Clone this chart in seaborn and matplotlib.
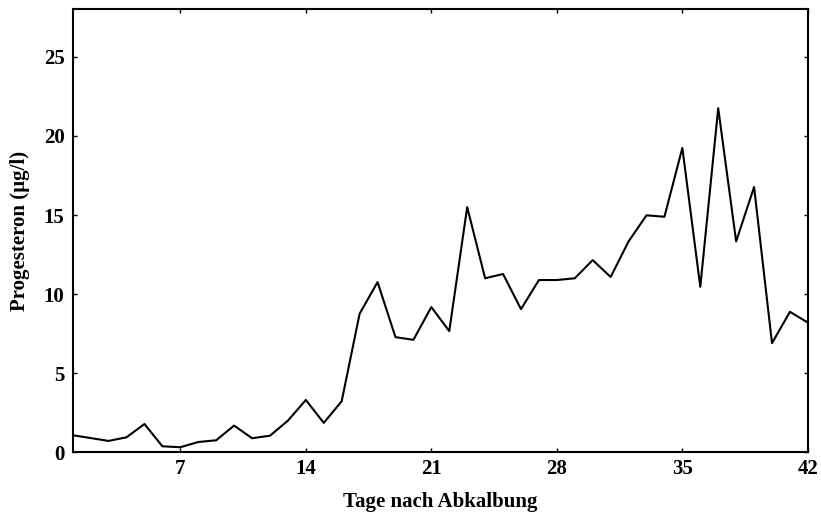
import numpy as np
import pandas as pd
import matplotlib
matplotlib.use("Agg")
import matplotlib.pyplot as plt
import seaborn as sns

#----------------------------------
# Data
#----------------------------------
days = list(range(1, 43))
progesteron = [1.08, 0.90, 0.72, 0.95, 1.79, 0.38, 0.32, 0.65, 0.76, 1.69,
               0.89, 1.05, 2.00, 3.31, 1.86, 3.23, 8.76, 10.76, 7.28, 7.11,
               9.18, 7.66, 15.50, 11.00, 11.27, 9.05, 10.89, 10.89, 11.00, 12.15,
               11.08, 13.33, 14.98, 14.89, 19.24, 10.46, 21.75, 13.33, 16.77, 6.90,
               8.88, 8.20]
x_ticks = [7, 14, 21, 28, 35, 42]
y_ticks = [0, 5, 10, 15, 20, 25]

df = pd.DataFrame({"Tag": days, "Progesteron": progesteron})

sns.set_style("ticks")
plt.rcParams['font.family'] = ['Liberation Serif', 'DejaVu Serif']
plt.rcParams['font.weight'] = 'bold'
plt.rcParams['text.color'] = 'black'
plt.rcParams['axes.labelcolor'] = 'black'
plt.rcParams['xtick.color'] = 'black'
plt.rcParams['ytick.color'] = 'black'
plt.rcParams['axes.edgecolor'] = 'black'

fig = plt.figure(figsize=(8.21, 5.19), dpi=100)
ax = fig.add_axes([0.0886, 0.1285, 0.8954, 0.8535])

sns.lineplot(data=df, x="Tag", y="Progesteron", color="black", linewidth=1.5, ax=ax)

ax.set_xlim(1, 42)
ax.set_ylim(0, 28)
ax.set_xticks(x_ticks)
ax.set_yticks(y_ticks)
ax.tick_params(direction="in", length=3, width=1, top=True, right=True,
               labelsize=15, colors="black")
ax.tick_params(axis="y", pad=6)
ax.tick_params(axis="x", pad=5)
for lab in ax.get_xticklabels() + ax.get_yticklabels():
    lab.set_fontweight("bold")
for s in ax.spines.values():
    s.set_linewidth(1.5)
    s.set_color("black")
    s.set_visible(True)

ax.set_xlabel("Tage nach Abkalbung", fontsize=15, fontweight="bold", labelpad=9)
ax.set_ylabel("Progesteron (µg/l)", fontsize=15, fontweight="bold", labelpad=10)

fig.savefig("out.png", dpi=100)
